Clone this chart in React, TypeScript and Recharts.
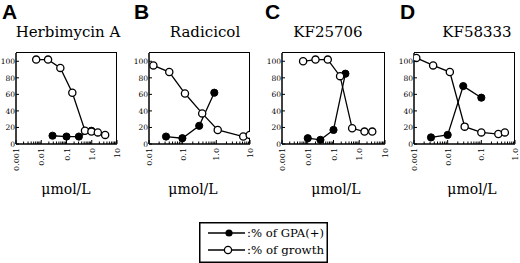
import React from "react";
import { LineChart, Line, XAxis, YAxis } from "recharts";

// ---- Data (x in µmol/L, y in %) ----
const gpaA = [
  { x: 0.028, y: 10 }, { x: 0.1, y: 9 }, { x: 0.31, y: 9 }, { x: 0.97, y: 16 },
];
const growthA = [
  { x: 0.0063, y: 102 }, { x: 0.0186, y: 102 }, { x: 0.057, y: 92 }, { x: 0.17, y: 62 },
  { x: 0.54, y: 16 }, { x: 0.97, y: 15 }, { x: 1.74, y: 14 }, { x: 3.4, y: 11 },
];
const gpaB = [
  { x: 0.032, y: 9 }, { x: 0.098, y: 7 }, { x: 0.31, y: 22 }, { x: 0.87, y: 62 },
];
const growthB = [
  { x: 0.0135, y: 95 }, { x: 0.04, y: 87 }, { x: 0.117, y: 61 }, { x: 0.38, y: 37 },
  { x: 1.1, y: 17 }, { x: 6.3, y: 9 }, { x: 9.8, y: 11 },
];
const gpaC = [
  { x: 0.01, y: 7 }, { x: 0.031, y: 5 }, { x: 0.1, y: 17 }, { x: 0.29, y: 85 },
];
const growthC = [
  { x: 0.0066, y: 100 }, { x: 0.02, y: 102 }, { x: 0.06, y: 102 }, { x: 0.18, y: 82 },
  { x: 0.53, y: 19 }, { x: 1.6, y: 15 }, { x: 3.2, y: 15 },
];
const gpaD = [
  { x: 0.0032, y: 8 }, { x: 0.01, y: 11 }, { x: 0.029, y: 70 }, { x: 0.1, y: 56 },
];
const growthD = [
  { x: 0.00117, y: 104 }, { x: 0.0037, y: 95 }, { x: 0.0116, y: 87 }, { x: 0.032, y: 21 },
  { x: 0.1, y: 14 }, { x: 0.32, y: 12 }, { x: 0.5, y: 14 },
];

const panelLetters = ["A", "B", "C", "D"];
const drugNames = ["Herbimycin A", "Radicicol", "KF25706", "KF58333"];
const decadesA = [0.001, 0.01, 0.1, 1, 10];
const decadesB = [0.01, 0.1, 1, 10];
const decadesC = [0.001, 0.01, 0.1, 1, 10];
const decadesD = [0.001, 0.01, 0.1, 1];
const decadeLabels: Record<string, string> = {
  "0.001": "0.001", "0.01": "0.01", "0.1": "0.1", "1": "1.0", "10": "10",
};
const yTicks = [0, 20, 40, 60, 80, 100];
const yMax = 110;
const unitLabel = "μmol/L";
const legendLabels = [":% of GPA(+)", ":% of growth"];

const SERIF = "'DejaVu Serif', serif";

// layout constants
const CHART_TOP = 48;
const CHART_H = 131;
const M_TOP = 5;
const M_RIGHT = 8;
const Y_W = 16;
const X_H = 35;

function minorTicks(decades: number[]) {
  const out: number[] = [];
  for (let i = 0; i < decades.length; i++) {
    out.push(decades[i]);
    if (i < decades.length - 1) {
      for (let k = 2; k <= 9; k++) out.push(+(decades[i] * k).toPrecision(3));
    }
  }
  return out;
}

function makeXTick(decades: number[]) {
  return (props: any) => {
    const { x, y, payload } = props;
    const v = payload.value;
    const major = decades.some((d) => Math.abs(d - v) / d < 1e-6);
    const label = decadeLabels[String(v)] ?? String(v);
    return (
      <g>
        <line x1={x} x2={x} y1={y} y2={y - (major ? 4 : 2.5)} stroke="#000" strokeWidth={1} />
        {major && (
          <text
            transform={`translate(${x + 3},${y + 4}) rotate(-90)`}
            textAnchor="end"
            fontSize={8}
            fontFamily={SERIF}
            fill="#000"
          >
            {label}
          </text>
        )}
      </g>
    );
  };
}

const YTick = (props: any) => {
  const { x, y, payload } = props;
  return (
    <g>
      <line x1={x} x2={x + 3} y1={y} y2={y} stroke="#000" strokeWidth={1} />
      <text x={x - 1} y={y + 3} textAnchor="end" fontSize={7.5} fontFamily={SERIF} fill="#000">
        {payload.value}
      </text>
    </g>
  );
};

const ClosedDot = (props: any) => (
  <circle key={props.key} cx={props.cx} cy={props.cy} r={3.6} fill="#000" stroke="#000" strokeWidth={1} />
);
const OpenDot = (props: any) => (
  <circle key={props.key} cx={props.cx} cy={props.cy} r={3.6} fill="#fff" stroke="#000" strokeWidth={1.3} />
);

type PanelProps = {
  left: number;
  width: number;
  decades: number[];
  gpa: { x: number; y: number }[];
  growth: { x: number; y: number }[];
};

function Panel({ left, width, decades, gpa, growth }: PanelProps) {
  const domain = [decades[0], decades[decades.length - 1]];
  return (
    <>
      {/* frame: top and right edges of the plot box */}
      <div
        style={{
          position: "absolute",
          left: left + Y_W,
          top: CHART_TOP + M_TOP - 0.75,
          width: width - Y_W - M_RIGHT,
          height: CHART_H - M_TOP - X_H,
          borderTop: "1.5px solid #000",
          borderRight: "1.5px solid #000",
          boxSizing: "border-box",
          marginRight: -0.75,
        }}
      />
      <div style={{ position: "absolute", left, top: CHART_TOP }}>
        <LineChart width={width} height={CHART_H} margin={{ top: M_TOP, right: M_RIGHT, left: 0, bottom: 0 }}>
          <XAxis
            dataKey="x"
            type="number"
            scale="log"
            domain={domain}
            allowDataOverflow
            ticks={minorTicks(decades)}
            interval={0}
            tick={makeXTick(decades)}
            tickLine={false}
            tickSize={0}
            tickMargin={0}
            height={X_H}
            axisLine={{ stroke: "#000", strokeWidth: 1.5 }}
          />
          <YAxis
            type="number"
            domain={[0, yMax]}
            ticks={yTicks}
            interval={0}
            width={Y_W}
            tickSize={0}
            tickMargin={0}
            tick={YTick}
            tickLine={false}
            axisLine={{ stroke: "#000", strokeWidth: 1.5 }}
          />
          <Line
            data={gpa}
            dataKey="y"
            stroke="#000"
            strokeWidth={1.3}
            dot={ClosedDot}
            isAnimationActive={false}
          />
          <Line
            data={growth}
            dataKey="y"
            stroke="#000"
            strokeWidth={1.3}
            dot={OpenDot}
            isAnimationActive={false}
          />
        </LineChart>
      </div>
    </>
  );
}

const letterX = [2, 134, 265, 400];
const titleX = [68, 205, 328, 477];
const unitX = [66, 193, 336, 472];

export default function App() {
  return (
    <div style={{ position: "absolute", left: 0, top: 0, width: 520, height: 263, background: "#fff", overflow: "hidden" }}>
      {panelLetters.map((l, i) => (
        <div
          key={l}
          style={{
            position: "absolute",
            left: letterX[i],
            top: 0,
            fontFamily: "'Liberation Sans', Arial, sans-serif",
            fontWeight: "bold",
            fontSize: 21,
            lineHeight: "24px",
          }}
        >
          {l}
        </div>
      ))}
      {drugNames.map((n, i) => (
        <div
          key={n}
          style={{
            position: "absolute",
            left: titleX[i] - 60,
            width: 120,
            textAlign: "center",
            top: 22,
            fontFamily: SERIF,
            fontSize: 15,
            lineHeight: "20px",
          }}
        >
          {n}
        </div>
      ))}
      {unitX.map((x, i) => (
        <div
          key={i}
          style={{
            position: "absolute",
            left: x - 40,
            width: 80,
            textAlign: "center",
            top: 179,
            fontFamily: SERIF,
            fontSize: 14,
            lineHeight: "20px",
          }}
        >
          {unitLabel}
        </div>
      ))}
      <Panel left={0} width={125} decades={decadesA} gpa={gpaA} growth={growthA} />
      <Panel left={133} width={125} decades={decadesB} gpa={gpaB} growth={growthB} />
      <Panel left={266} width={127} decades={decadesC} gpa={gpaC} growth={growthC} />
      <Panel left={398} width={125} decades={decadesD} gpa={gpaD} growth={growthD} />
      <svg style={{ position: "absolute", left: 199, top: 222 }} width={129} height={41}>
        <rect x={0.75} y={0.75} width={127.5} height={39.5} fill="#fff" stroke="#000" strokeWidth={1.5} />
        <line x1={9} x2={46} y1={11} y2={11} stroke="#000" strokeWidth={1.3} />
        <circle cx={30} cy={11} r={3.6} fill="#000" />
        <text x={48} y={15} fontFamily={SERIF} fontSize={11} fill="#000" textLength={77} lengthAdjust="spacingAndGlyphs">
          {legendLabels[0]}
        </text>
        <line x1={9} x2={46} y1={28} y2={28} stroke="#000" strokeWidth={1.3} />
        <circle cx={29} cy={28} r={3.6} fill="#fff" stroke="#000" strokeWidth={1.3} />
        <text x={48} y={32} fontFamily={SERIF} fontSize={11} fill="#000" textLength={77} lengthAdjust="spacingAndGlyphs">
          {legendLabels[1]}
        </text>
      </svg>
    </div>
  );
}
